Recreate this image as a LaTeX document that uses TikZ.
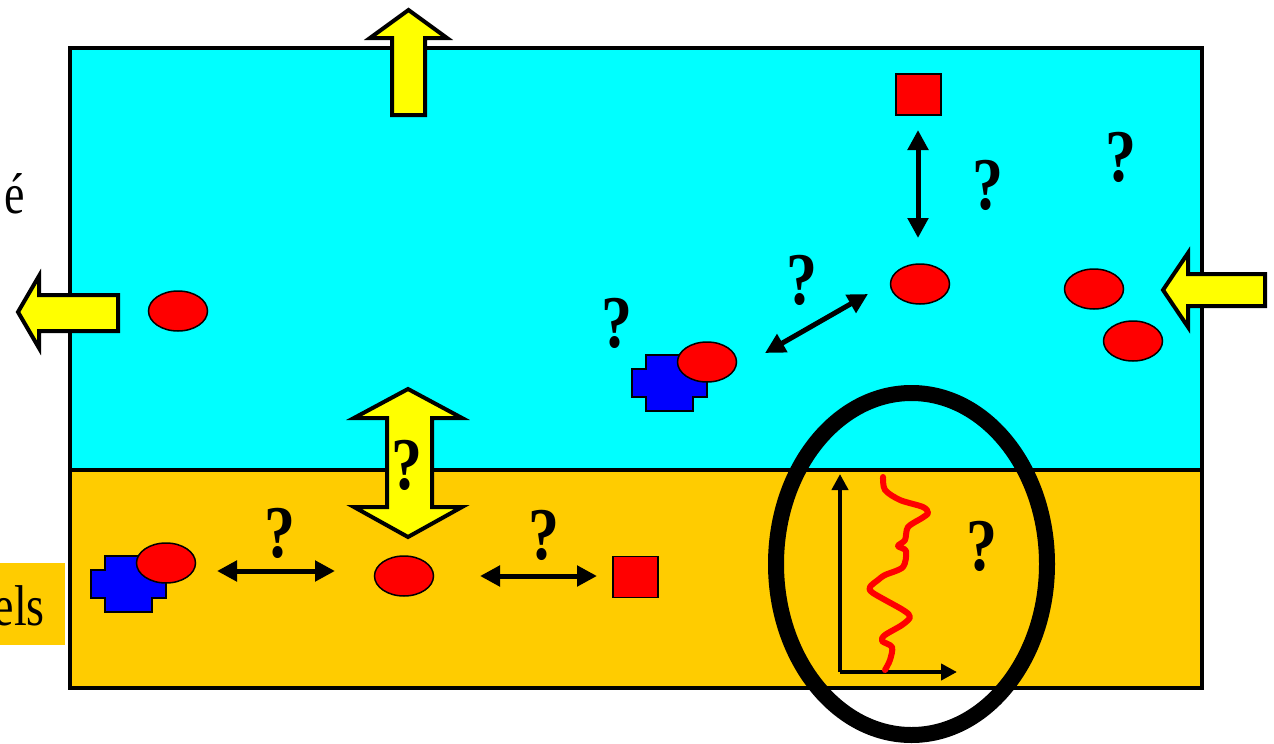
\documentclass[tikz,border=0pt]{standalone}
\usepackage{fontspec}
\setmainfont{Liberation Serif}
\usetikzlibrary{shapes.geometric,arrows.meta}
\definecolor{cyanbg}{HTML}{00FFFF}
\definecolor{orangebg}{HTML}{FFCC00}
\definecolor{yel}{HTML}{FFFF00}
\definecolor{redc}{HTML}{FF0000}
\definecolor{bluec}{HTML}{0000FF}
\begin{document}
\begin{tikzpicture}[x=1pt,y=-1pt,
  redell/.style={ellipse, draw=black, fill=redc, line width=1.5pt, minimum width=59pt, minimum height=40pt, inner sep=0pt},
  redsq/.style={draw=black, fill=redc, line width=1.5pt, minimum width=45pt, minimum height=41pt, inner sep=0pt},
  yarrow/.style={draw=black, fill=yel, line width=4pt, line join=miter, miter limit=10},
  dblarrow/.style={{Triangle[length=20pt,width=20pt]}-{Triangle[length=20pt,width=20pt]}, line width=5pt},
  axisarrow/.style={-{Triangle[length=16pt,width=16pt]}, line width=4pt},
  qm/.style={font=\fontsize{62}{62}\selectfont\bfseries, inner sep=0pt},
  lbl/.style={font=\fontsize{46}{46}\selectfont, inner sep=0pt},
  bluecross/.style={draw=black, fill=bluec, line width=1.5pt},
  zone/.style={draw=black, line width=4pt}
]
\useasboundingbox (0,0) rectangle (1274,744);
% zones
\path[zone, fill=cyanbg] (70,48) rectangle (1202,470);
\path[zone, fill=orangebg] (70,470) rectangle (1202,688);
% labels at left
\node[lbl, anchor=base east] (lblA) at (25,213) {\scalebox{1}[1.25]{é}};
\fill[orangebg] (0,563) rectangle (65,645);
\node[lbl, anchor=base east] (lblB) at (45,625) {\scalebox{1}[1.25]{els}};
% yellow arrows
\path[yarrow] (392,115) -- (425,115) -- (425,38) -- (447,38) -- (408.5,10) -- (370,38) -- (392,38) -- cycle;
\path[yarrow] (118,295) -- (118,331) -- (39,331) -- (39,348) -- (18,312) -- (39,276) -- (39,295) -- cycle;
\path[yarrow] (1265,274) -- (1265,306) -- (1188,306) -- (1188,327) -- (1163,290) -- (1188,253) -- (1188,274) -- cycle;
\path[yarrow] (408,389) -- (462,418) -- (432,418) -- (432,507) -- (462,507) -- (408,537) -- (354,507) -- (387,507) -- (387,418) -- (354,418) -- cycle;
% blue complexes
\path[bluecross, shift={(632,355)}] (0,14) -- (14,14) -- (14,0) -- (61,0) -- (61,14) -- (75,14) -- (75,42) -- (61,42) -- (61,56) -- (14,56) -- (14,42) -- (0,42) -- cycle;
\path[bluecross, shift={(91,556)}] (0,14) -- (14,14) -- (14,0) -- (61,0) -- (61,14) -- (75,14) -- (75,42) -- (61,42) -- (61,56) -- (14,56) -- (14,42) -- (0,42) -- cycle;
% red molecules
\node[redell] (m1) at (178,311) {};
\node[redell] (m2) at (920,284) {};
\node[redell] (m3) at (1094,289) {};
\node[redell] (m4) at (1133,341) {};
\node[redell] (m5) at (707,362) {};
\node[redell] (m6) at (166,563) {};
\node[redell] (m7) at (404,576) {};
\node[redsq] (s1) at (918.5,94.5) {};
\node[redsq] (s2) at (635.5,577) {};
% double arrows
\coordinate (v1) at (918,130);
\coordinate (v2) at (918,238);
\coordinate (d1) at (765,353);
\coordinate (d2) at (868,294);
\coordinate (h1) at (217,571);
\coordinate (h2) at (335,571);
\coordinate (h3) at (480,576);
\coordinate (h4) at (597,576);
\draw[dblarrow] (v1) -- (v2);
\draw[dblarrow] (d1) -- (d2);
\draw[dblarrow] (h1) -- (h2);
\draw[dblarrow] (h3) -- (h4);
% question marks
\node[qm] (q1) at (988,185) {\scalebox{1}[1.2]{?}};
\node[qm] (q2) at (1121,157) {\scalebox{1}[1.2]{?}};
\node[qm] (q3) at (802,280) {\scalebox{1}[1.2]{?}};
\node[qm] (q4) at (617,323) {\scalebox{1}[1.2]{?}};
\node[qm] (q5) at (407,465) {\scalebox{1}[1.2]{?}};
\node[qm] (q6) at (280,533) {\scalebox{1}[1.2]{?}};
\node[qm] (q7) at (544,535) {\scalebox{1}[1.2]{?}};
\node[qm] (q8) at (982,546) {\scalebox{1}[1.2]{?}};
% profile graph
\coordinate (o) at (840,672);
\coordinate (yt) at (840,474);
\coordinate (xt) at (957,672);
\draw[axisarrow] (o) -- (yt);
\draw[axisarrow] (o) -- (xt);
\draw[redc, line width=6pt, line cap=round, line join=round] plot[smooth, tension=0.5] coordinates {
 (883,477) (885,490) (900,500) (923,507) (928,513) (922,518) (908,527) (905,540) (898,546) (906,551) (903,567) (885,575) (878,580) (870,587) (873,593) (903,610) (910,617) (902,625) (885,635) (882,641) (892,647) (890,660) (885,670)};
% highlight ellipse
\draw[line width=16pt] (911.5,564) ellipse [x radius=135.5pt, y radius=171pt];
\end{tikzpicture}
\end{document}
